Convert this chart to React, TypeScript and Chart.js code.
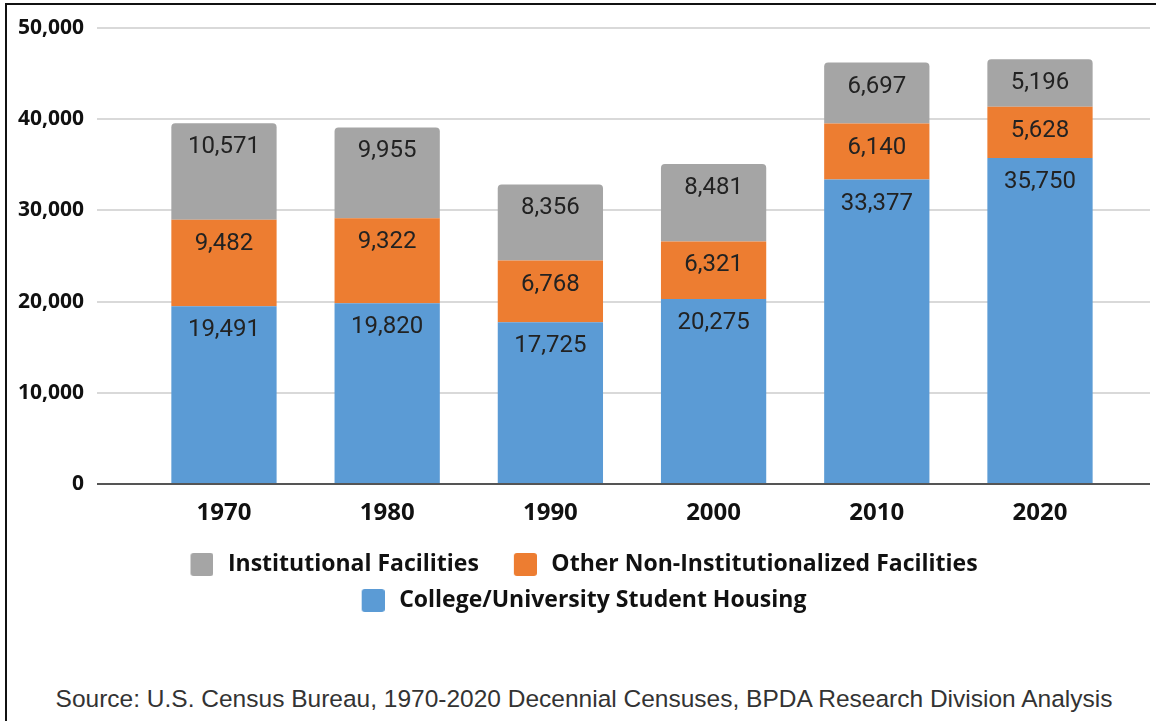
import React, { useEffect, useRef } from "react";
import { Chart, registerables } from "chart.js";

Chart.register(...registerables);

const years = ["1970", "1980", "1990", "2000", "2010", "2020"];
const studentHousing = [19491, 19820, 17725, 20275, 33377, 35750];
const otherNonInstitutional = [9482, 9322, 6768, 6321, 6140, 5628];
const institutional = [10571, 9955, 8356, 8481, 6697, 5196];
const seriesLabels = [
  "College/University Student Housing",
  "Other Non-Institutionalized Facilities",
  "Institutional Facilities",
];
const seriesColors = ["#5b9bd5", "#ed7d31", "#a5a5a5"];
const yMax = 50000;
const yStep = 10000;
const sourceNote =
  "Source: U.S. Census Bureau, 1970-2020 Decennial Censuses, BPDA Research Division Analysis";

const BOLD_FONT = "'Open Sans'";
const LABEL_FONT = "Roboto";

function makeSwatch(color: string) {
  const c = document.createElement("canvas");
  c.width = 42;
  c.height = 23;
  const g = c.getContext("2d")!;
  g.fillStyle = color;
  g.beginPath();
  (g as any).roundRect(19, 0, 23, 23, 3);
  g.fill();
  return c;
}

const fmt = (v: number) => v.toLocaleString("en-US");

export default function App() {
  const ref = useRef<HTMLCanvasElement | null>(null);

  useEffect(() => {
    if (!ref.current) return;
    const swatches = seriesColors.map(makeSwatch);
    const seriesData = [studentHousing, otherNonInstitutional, institutional];

    const valueLabels = {
      id: "valueLabels",
      afterDatasetsDraw(chart: any) {
        const ctx = chart.ctx;
        ctx.save();
        ctx.font = `24px ${LABEL_FONT}`;
        ctx.fillStyle = "#222";
        ctx.textAlign = "center";
        ctx.textBaseline = "middle";
        chart.data.datasets.forEach((ds: any, di: number) => {
          const meta = chart.getDatasetMeta(di);
          meta.data.forEach((el: any, i: number) => {
            ctx.fillText(fmt(seriesData[di][i]), el.x, el.y + 24);
          });
        });
        ctx.restore();
      },
    };

    const chart = new Chart(ref.current, {
      type: "bar",
      data: {
        datasets: seriesLabels.map((label, di) => ({
          label,
          data: seriesData[di].map((v, i) => ({ x: i, y: v })),
          backgroundColor: seriesColors[di],
          borderWidth: 0,
          borderRadius:
            di === 2
              ? { topLeft: 4, topRight: 4, bottomLeft: 0, bottomRight: 0 }
              : 0,
          borderSkipped: "start",
          categoryPercentage: 1,
          barPercentage: 0.645,
        })),
      },
      options: {
        responsive: false,
        animation: false,
        layout: { padding: { top: 28, bottom: 8, left: 0, right: 0 } },
        scales: {
          x: {
            type: "linear",
            stacked: true,
            offset: false,
            min: -0.778,
            max: 5.674,
            afterBuildTicks: (scale: any) => {
              scale.ticks = years.map((_, i) => ({ value: i }));
            },
            afterFit: (scale: any) => {
              scale.height = 56;
            },
            ticks: {
              autoSkip: false,
              maxRotation: 0,
              padding: 15,
              color: "#111",
              font: { family: BOLD_FONT, size: 24, weight: "bold" },
              callback: (v: any) => years[v as number] ?? "",
            },
            grid: { display: false, drawTicks: false, offset: false },
            border: { display: false },
          },
          y: {
            stacked: true,
            min: 0,
            max: yMax,
            afterFit: (scale: any) => {
              scale.width = 101;
            },
            ticks: {
              stepSize: yStep,
              padding: 13,
              color: "#111",
              font: { family: BOLD_FONT, size: 21, weight: "bold" },
              callback: (v: any) => fmt(Number(v)),
            },
            grid: {
              drawTicks: false,
              lineWidth: 2,
              color: (ctx: any) => (ctx.tick && ctx.tick.value === 0 ? "#555" : "#d9d9d9"),
            },
            border: { display: false },
          },
        },
        plugins: {
          tooltip: { enabled: false },
          title: { display: false },
          legend: {
            position: "bottom",
            reverse: true,
            labels: {
              usePointStyle: true,
              pointStyleWidth: 48,
              boxHeight: 22,
              padding: 13,
              color: "#111",
              font: { family: BOLD_FONT, size: 23, weight: "bold" },
              generateLabels: (ch: any) =>
                ch.data.datasets.map((ds: any, i: number) => ({
                  text: ds.label,
                  fillStyle: ds.backgroundColor,
                  strokeStyle: ds.backgroundColor,
                  lineWidth: 0,
                  hidden: false,
                  datasetIndex: i,
                  pointStyle: swatches[i],
                  fontColor: "#111",
                })),
            },
          },
        },
      },
      plugins: [valueLabels],
    } as any);

    return () => chart.destroy();
  }, []);

  return (
    <div
      style={{
        position: "fixed",
        left: 0,
        top: 0,
        width: 1156,
        height: 721,
        overflow: "hidden",
        background: "#fff",
      }}
    >
      <div
        style={{
          position: "absolute",
          left: 5,
          top: 3,
          width: 1151,
          height: 718,
          borderLeft: "2px solid #111",
          borderTop: "2px solid #111",
          boxSizing: "border-box",
        }}
      />
      <canvas
        ref={ref}
        width={1154}
        height={630}
        style={{ position: "absolute", left: -4, top: 0 }}
      />
      <div
        style={{
          position: "absolute",
          left: 0,
          top: 685,
          width: 1168,
          textAlign: "center",
          fontFamily: "'Liberation Sans', Arial, sans-serif",
          fontSize: 24.5,
          lineHeight: "28px",
          color: "#333",
          whiteSpace: "nowrap",
        }}
      >
        {sourceNote}
      </div>
    </div>
  );
}
